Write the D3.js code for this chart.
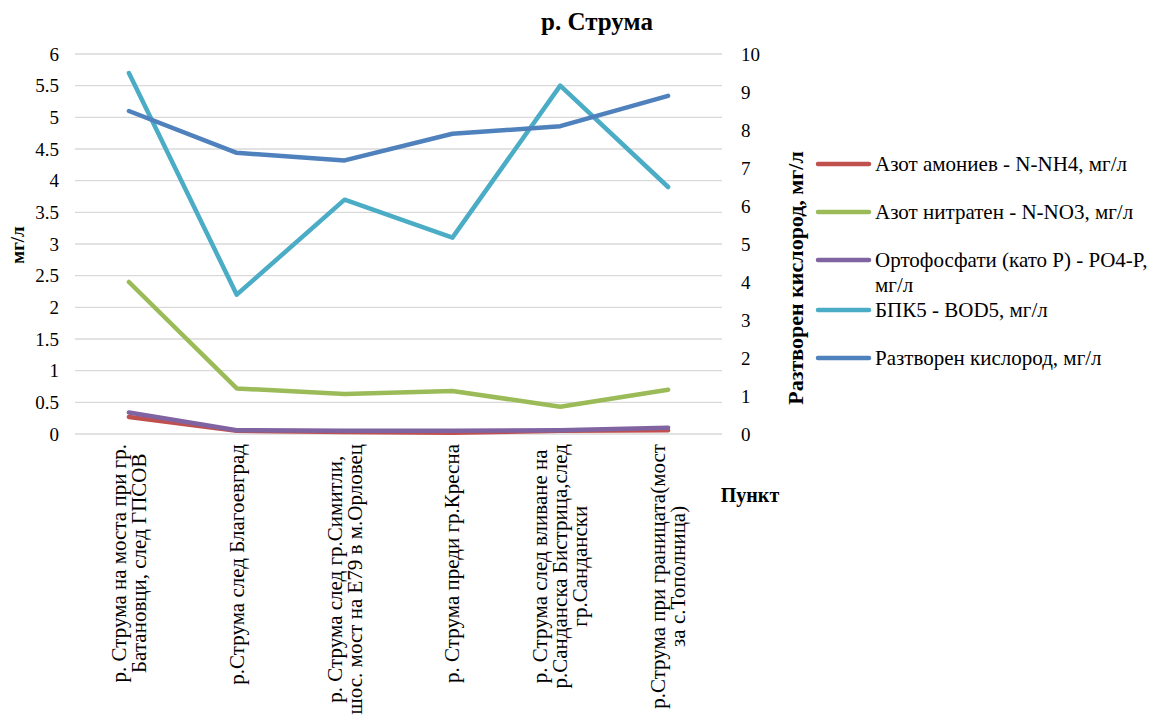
<!doctype html>
<html>
<head>
<meta charset="utf-8">
<style>
  body { margin: 0; background: #fff; }
  .grid line { stroke: #d9d9d9; stroke-width: 1.3; }
  .series { fill: none; stroke-width: 4.5; stroke-linecap: round; stroke-linejoin: round; }
</style>
<script src="https://d3js.org/d3.v7.min.js"></script>
</head>
<body>
<svg width="1164" height="722"></svg>
<script>
var categories = [
  ["р. Струма на моста при гр.", "Батановци, след ГПСОВ"],
  ["р.Струма след Благоевград"],
  ["р. Струма след гр.Симитли,", "шос. мост на Е79 в м.Орловец"],
  ["р. Струма преди гр.Кресна"],
  ["р. Струма след вливане на", "р.Санданска Бистрица,след", "гр.Сандански"],
  ["р.Струма при границата(мост", "за с.Тополница)"]
];
var seriesNames = [
  "Азот амониев - N-NH4, мг/л",
  "Азот нитратен - N-NO3, мг/л",
  "Ортофосфати (като P) - PO4-P, мг/л",
  "БПК5 - BOD5, мг/л",
  "Разтворен кислород, мг/л"
];
var nh4 = [0.27, 0.05, 0.03, 0.02, 0.05, 0.06];
var no3 = [2.4, 0.72, 0.63, 0.68, 0.43, 0.70];
var po4 = [0.34, 0.06, 0.05, 0.05, 0.06, 0.10];
var bod5 = [5.7, 2.2, 3.7, 3.1, 5.5, 3.9];
var oxygen = [8.5, 7.4, 7.2, 7.9, 8.1, 8.9];
var leftTicks = [0, 0.5, 1, 1.5, 2, 2.5, 3, 3.5, 4, 4.5, 5, 5.5, 6];
var rightTicks = [0, 1, 2, 3, 4, 5, 6, 7, 8, 9, 10];
var colors = ["#c0504d", "#9bbb59", "#8064a2", "#4bacc6", "#4f81bd"];

var FONT = "'Liberation Serif', 'Times New Roman', serif";
var svg = d3.select("svg").style("font-family", FONT);
var plotLeft = 75, plotRight = 722, plotTop = 54, plotBottom = 434;

var x = d3.scaleBand().domain(d3.range(categories.length)).range([plotLeft, plotRight]);
var yL = d3.scaleLinear().domain([0, 6]).range([plotBottom, plotTop]);
var yR = d3.scaleLinear().domain([0, 10]).range([plotBottom, plotTop]);

// gridlines
svg.append("g").attr("class", "grid")
  .selectAll("line").data(leftTicks).enter().append("line")
  .attr("x1", plotLeft).attr("x2", plotRight)
  .attr("y1", function(d) { return yL(d); })
  .attr("y2", function(d) { return yL(d); });

// left axis
var ga = svg.append("g").attr("transform", "translate(" + plotLeft + ",0)")
  .call(d3.axisLeft(yL).tickValues(leftTicks).tickSize(0).tickPadding(16).tickFormat(d3.format("")));
ga.select(".domain").remove();
ga.attr("font-family", null).attr("font-size", null);
ga.selectAll("text").style("font-family", FONT).style("font-size", "19px").attr("fill", "#000");

// right axis
var gr = svg.append("g").attr("transform", "translate(" + plotRight + ",0)")
  .call(d3.axisRight(yR).tickValues(rightTicks).tickSize(0).tickPadding(19));
gr.select(".domain").remove();
gr.attr("font-family", null).attr("font-size", null);
gr.selectAll("text").style("font-family", FONT).style("font-size", "19px").attr("fill", "#000");

// x labels
var xl = svg.append("g");
categories.forEach(function(lines, i) {
  var cx = x(i) + x.bandwidth() / 2;
  var lh = 20;
  var g = xl.append("g").attr("transform", "translate(" + cx + ",444) rotate(-90)");
  var t = g.append("text").attr("text-anchor", "middle")
    .style("font-family", FONT).style("font-size", "21px");
  lines.forEach(function(s, j) {
    t.append("tspan").attr("x", 0)
      .attr("y", (j - (lines.length - 1) / 2) * lh + 7)
      .text(s);
  });
  var w = d3.max(t.selectAll("tspan").nodes(), function(n) { return n.getComputedTextLength(); });
  t.selectAll("tspan").attr("x", -w / 2);
});

// lines
var allSeries = [nh4, no3, po4, bod5, oxygen];
allSeries.forEach(function(vals, k) {
  var ys = k === 4 ? yR : yL;
  var line = d3.line()
    .x(function(d, i) { return x(i) + x.bandwidth() / 2; })
    .y(function(d) { return ys(d); });
  svg.append("path").attr("class", "series")
    .attr("stroke", colors[k])
    .attr("d", line(vals));
});

// title
svg.append("text").attr("x", 597).attr("y", 30).attr("text-anchor", "middle")
  .style("font-family", FONT).style("font-size", "25px").style("font-weight", "bold").text("р. Струма");

// axis titles
svg.append("text").attr("transform", "translate(24,245) rotate(-90)")
  .attr("text-anchor", "middle").style("font-family", FONT)
  .style("font-size", "19px").style("font-weight", "bold").text("мг/л");
svg.append("text").attr("transform", "translate(803,278) rotate(-90)")
  .attr("text-anchor", "middle").style("font-family", FONT)
  .style("font-size", "22px").style("font-weight", "bold").text("Разтворен кислород, мг/л");
svg.append("text").attr("x", 750).attr("y", 502).attr("text-anchor", "middle")
  .style("font-family", FONT).style("font-size", "20px").style("font-weight", "bold").text("Пункт");

// legend
var legendY = [164, 212, 260, 310, 358];
var lg = svg.append("g");
seriesNames.forEach(function(name, k) {
  lg.append("line")
    .attr("x1", 818).attr("x2", 869)
    .attr("y1", legendY[k]).attr("y2", legendY[k])
    .attr("stroke", colors[k]).attr("stroke-width", 4.5).attr("stroke-linecap", "round");
  var t = lg.append("text").attr("x", 875).attr("y", legendY[k] + 7)
    .style("font-family", FONT).style("font-size", "21px");
  if (k === 2) {
    t.append("tspan").attr("x", 875).text("Ортофосфати (като P) - PO4-P,");
    t.append("tspan").attr("x", 875).attr("dy", 25).text("мг/л");
  } else {
    t.text(name);
  }
});
</script>
</body>
</html>
